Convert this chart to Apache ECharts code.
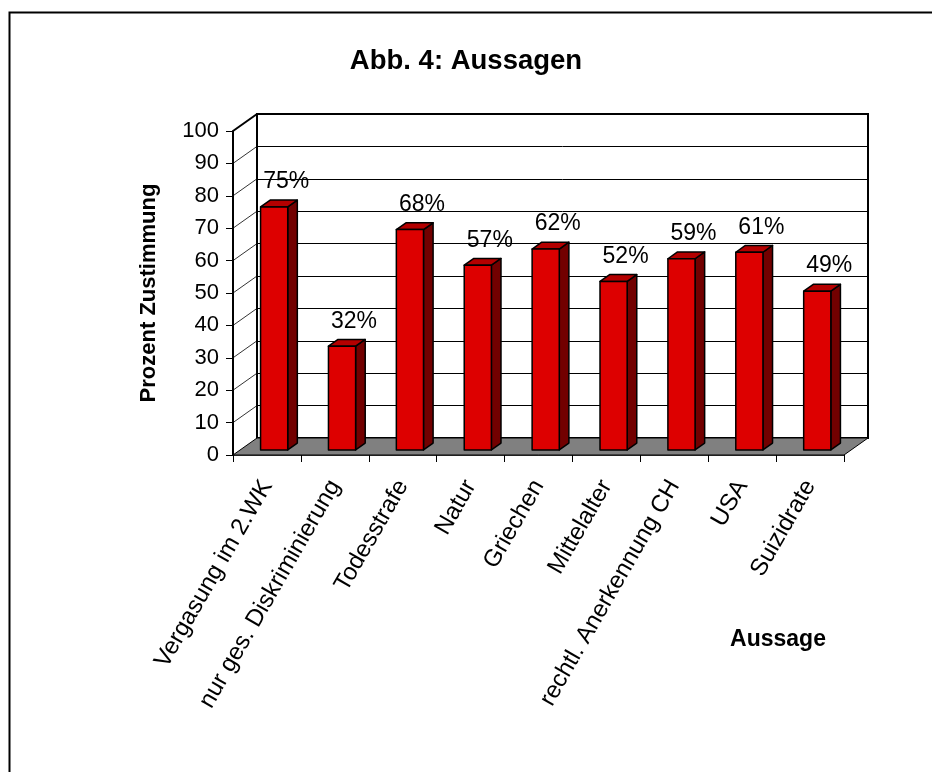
<!DOCTYPE html>
<html>
<head>
<meta charset="utf-8">
<title>Abb. 4: Aussagen</title>
<script src="https://cdn.jsdelivr.net/npm/echarts@6/dist/echarts.min.js"></script>
<style>
  html, body { margin: 0; padding: 0; background: #fff; }
  #chart { width: 932px; height: 772px; }
</style>
</head>
<body>
<div id="chart"></div>
<script>
  const categories = ['Vergasung im 2.WK', 'nur ges. Diskriminierung', 'Todesstrafe', 'Natur', 'Griechen',
    'Mittelalter', 'rechtl. Anerkennung CH', 'USA', 'Suizidrate']
  const zustimmung = [75, 32, 68, 57, 62, 52, 59, 61, 49]
  const yTicks = [10, 20, 30, 40, 50, 60, 70, 80, 90, 100]

  const FONT = '"Liberation Sans", Arial, sans-serif'
  // 3D depth of the plot: back wall is shifted by this much
  const DEPTH_X = 24
  const DEPTH_Y = -17

  const chart = echarts.init(document.getElementById('chart'))

  const renderBar = (params, api) => {
    const i = api.value(0)
    const v = api.value(1)
    const base = api.coord([i, 0])
    const top = api.coord([i, v])
    const band = api.size([1, 0])[0]
    const bw = band * 0.4
    const fx = base[0] - bw / 2 + DEPTH_X * 0.3
    const fb = base[1] + DEPTH_Y * 0.3
    const ft = top[1] + DEPTH_Y * 0.3
    const dx = DEPTH_X * 0.4
    const dy = DEPTH_Y * 0.4
    const stroke = { stroke: '#000', lineWidth: 1.5, lineJoin: 'round' }
    return {
      type: 'group',
      children: [
        {
          type: 'polygon',
          shape: { points: [[fx + bw, ft], [fx + bw + dx, ft + dy], [fx + bw + dx, fb + dy], [fx + bw, fb]] },
          style: Object.assign({ fill: '#720000' }, stroke)
        },
        {
          type: 'polygon',
          shape: { points: [[fx, ft], [fx + bw, ft], [fx + bw + dx, ft + dy], [fx + dx, ft + dy]] },
          style: Object.assign({ fill: '#b40000' }, stroke)
        },
        {
          type: 'rect',
          shape: { x: fx, y: ft, width: bw, height: fb - ft },
          style: Object.assign({ fill: '#dd0000' }, stroke)
        },
        {
          type: 'text',
          x: fx + bw / 2 + 12,
          y: ft - 25,
          style: {
            text: v + '%',
            fill: '#000',
            font: '23px ' + FONT,
            align: 'center',
            verticalAlign: 'middle'
          }
        }
      ]
    }
  }

  const renderFloor = (params, api) => {
    const band = api.size([1, 0])[0]
    const a = api.coord([0, 0])
    const b = api.coord([categories.length - 1, 0])
    const l = a[0] - band / 2
    const r = b[0] + band / 2
    const y = a[1]
    return {
      type: 'polygon',
      shape: { points: [[l, y], [r, y], [r + DEPTH_X, y + DEPTH_Y], [l + DEPTH_X, y + DEPTH_Y]] },
      style: { fill: '#808080', stroke: '#000', lineWidth: 1 }
    }
  }

  const renderWallLine = (params, api) => {
    const band = api.size([1, 0])[0]
    const p = api.coord([0, api.value(1)])
    const l = p[0] - band / 2
    const isTop = api.value(1) === 100
    return {
      type: 'line',
      shape: { x1: l, y1: p[1], x2: l + DEPTH_X, y2: p[1] + DEPTH_Y },
      style: { stroke: '#000', lineWidth: isTop ? 2 : 0.8 }
    }
  }

  const option = {
    animation: false,
    backgroundColor: '#fff',
    textStyle: { fontFamily: FONT },
    title: {
      text: 'Abb. 4: Aussagen',
      left: 'center',
      top: 42,
      textStyle: { fontSize: 27.5, fontWeight: 'bold', color: '#000', fontFamily: FONT }
    },
    graphic: [
      {
        type: 'rect',
        left: 7,
        top: 10,
        shape: { width: 940, height: 800 },
        style: { fill: 'none', stroke: '#000', lineWidth: 2 },
        z: 100
      },
      {
        type: 'text',
        x: 778,
        y: 640,
        style: {
          text: 'Aussage',
          font: 'bold 23px ' + FONT,
          fill: '#000',
          align: 'center',
          verticalAlign: 'middle'
        }
      }
    ],
    grid: [
      { left: 233, right: 88, top: 131, bottom: 317 },
      {
        left: 257, right: 64, top: 114, bottom: 334,
        show: true, backgroundColor: '#fff', borderColor: '#000', borderWidth: 2
      }
    ],
    xAxis: [
      {
        type: 'category',
        gridIndex: 0,
        data: categories,
        boundaryGap: true,
        axisLine: { lineStyle: { color: '#000', width: 1.5 } },
        axisTick: { show: true, length: 7, interval: 0, lineStyle: { color: '#000', width: 1 } },
        axisLabel: {
          interval: 0,
          rotate: 60,
          margin: 27,
          color: '#000',
          fontSize: 24,
          fontFamily: FONT
        }
      },
      {
        type: 'category',
        gridIndex: 1,
        data: categories,
        axisLine: { show: false },
        axisTick: { show: false },
        axisLabel: { show: false }
      }
    ],
    yAxis: [
      {
        type: 'value',
        gridIndex: 0,
        min: 0,
        max: 100,
        interval: 10,
        name: 'Prozent Zustimmung',
        nameLocation: 'middle',
        nameRotate: 90,
        nameGap: 73,
        nameTextStyle: { fontSize: 22, fontWeight: 'bold', color: '#000', fontFamily: FONT },
        axisLine: { show: true, lineStyle: { color: '#000', width: 2 } },
        axisTick: { show: true, length: 7, lineStyle: { color: '#000', width: 1 } },
        axisLabel: { color: '#000', fontSize: 22, margin: 14, fontFamily: FONT },
        splitLine: { show: false }
      },
      {
        type: 'value',
        gridIndex: 1,
        min: 0,
        max: 100,
        interval: 10,
        axisLine: { show: false },
        axisTick: { show: false },
        axisLabel: { show: false },
        splitLine: { show: true, lineStyle: { color: '#000', width: 1 } }
      }
    ],
    series: [
      {
        type: 'custom',
        name: 'Boden',
        xAxisIndex: 0,
        yAxisIndex: 0,
        renderItem: renderFloor,
        data: [[0, 0]],
        silent: true,
        z: 2
      },
      {
        type: 'custom',
        name: 'Seitenwand',
        xAxisIndex: 0,
        yAxisIndex: 0,
        renderItem: renderWallLine,
        data: yTicks.map(t => [0, t]),
        silent: true,
        z: 2
      },
      {
        type: 'custom',
        name: 'Zustimmung',
        xAxisIndex: 0,
        yAxisIndex: 0,
        renderItem: renderBar,
        data: zustimmung.map((v, i) => [i, v]),
        z: 3
      }
    ]
  }

  chart.setOption(option)
</script>
</body>
</html>
